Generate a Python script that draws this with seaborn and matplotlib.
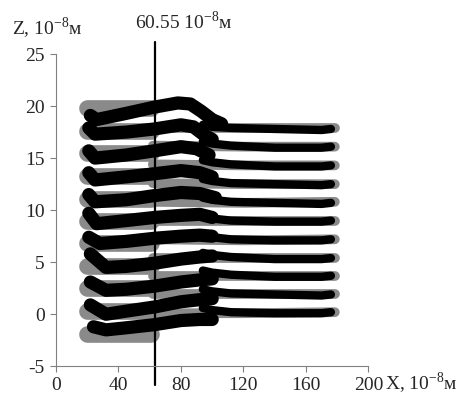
import matplotlib
matplotlib.use("Agg")
import matplotlib.pyplot as plt
import seaborn as sns

sns.set_style("ticks")
plt.rcParams['font.family'] = ['Liberation Serif', 'DejaVu Serif']
plt.rcParams['mathtext.fontset'] = 'custom'
plt.rcParams['mathtext.rm'] = 'Liberation Serif'

# ---- data ----
line_x = 63.5
line_label = "60.55 10$^{\\mathregular{-8}}$м"
x_ticks = [0, 40, 80, 120, 160, 200]
y_ticks = [-5, 0, 5, 10, 15, 20, 25]

# gray (initial) layers: left flat level and right level
gray_left_x = [20, 61]
gray_left_y = [19.8, 17.6, 15.5, 13.3, 11.1, 9.0, 6.8, 4.6, 2.5, 0.3, -1.9]
gray_right_x = [62, 120, 178.5]
gray_right_y = [[17.9, 17.9, 17.9], [16.2, 16.1, 16.1], [14.4, 14.3, 14.3],
                [12.6, 12.5, 12.5], [10.8, 10.7, 10.8], [9.0, 9.0, 9.0],
                [7.2, 7.1, 7.2], [5.4, 5.4, 5.4], [3.7, 3.7, 3.7],
                [1.9, 1.9, 1.9], [0.1, 0.1, 0.2]]

# black (final) left layers
black_left = [
    ([22, 26, 45, 63, 78, 86, 93, 100, 106], [19.1, 18.7, 19.3, 19.9, 20.3, 20.2, 19.5, 18.7, 18.3]),
    ([21, 25, 45, 63, 80, 88, 95, 100], [17.9, 17.3, 17.5, 17.8, 18.2, 18.0, 17.2, 16.8]),
    ([21, 25, 45, 63, 80, 90, 98], [15.7, 15.0, 15.3, 15.7, 16.1, 15.9, 15.3]),
    ([21, 25, 45, 63, 80, 92, 100], [13.6, 12.9, 13.2, 13.5, 13.8, 13.6, 13.2]),
    ([21, 25, 45, 63, 80, 92, 102], [11.5, 10.8, 11.0, 11.4, 11.7, 11.6, 11.2]),
    ([21, 26, 45, 63, 80, 92, 100], [9.7, 8.7, 9.0, 9.3, 9.5, 9.6, 9.3]),
    ([21, 28, 45, 63, 80, 92, 100], [7.4, 6.8, 7.0, 7.3, 7.5, 7.6, 7.5]),
    ([22, 32, 45, 63, 80, 92, 100], [5.8, 4.5, 4.6, 4.9, 5.3, 5.5, 5.6]),
    ([22, 32, 45, 63, 80, 92, 100], [3.1, 2.3, 2.4, 2.7, 3.1, 3.3, 3.4]),
    ([22, 32, 45, 63, 80, 92, 100], [0.9, 0.0, 0.3, 0.7, 1.2, 1.4, 1.5]),
    ([24, 32, 45, 63, 80, 92, 100], [-1.2, -1.5, -1.3, -1.0, -0.6, -0.5, -0.5]),
]

# black (final) right layers
black_right_x = [94, 100, 112, 140, 170, 176]
black_right_y = [[18.2, 18.0, 17.9, 17.8, 17.7, 17.8],
                 [16.6, 16.4, 16.2, 16.0, 16.0, 16.1],
                 [14.8, 14.6, 14.4, 14.2, 14.2, 14.3],
                 [13.0, 12.8, 12.6, 12.5, 12.4, 12.5],
                 [11.2, 11.0, 10.8, 10.7, 10.6, 10.7],
                 [9.4, 9.2, 9.0, 8.9, 8.9, 9.0],
                 [7.6, 7.4, 7.2, 7.1, 7.1, 7.2],
                 [5.9, 5.7, 5.5, 5.3, 5.3, 5.4],
                 [4.2, 4.0, 3.8, 3.6, 3.6, 3.7],
                 [2.4, 2.2, 2.0, 1.9, 1.8, 1.9],
                 [0.6, 0.4, 0.2, 0.1, 0.1, 0.2]]

# ---- figure ----
fig = plt.figure(figsize=(4.67, 4.01), dpi=100)
ax = fig.add_axes([0.1199, 0.0865, 0.669, 0.7788])

gray = '#8a8a8a'
for gy in gray_left_y:
    sns.lineplot(x=gray_left_x, y=[gy, gy], sort=False, estimator=None, color=gray,
                 linewidth=12, solid_capstyle='round', ax=ax)
for gy in gray_right_y:
    sns.lineplot(x=gray_right_x, y=gy, sort=False, estimator=None, color=gray,
                 linewidth=7, solid_capstyle='round', ax=ax)
for bx, by in black_left:
    sns.lineplot(x=bx, y=by, sort=False, estimator=None, color='black',
                 linewidth=9.5, solid_capstyle='round', solid_joinstyle='round', ax=ax)
for by in black_right_y:
    sns.lineplot(x=black_right_x, y=by, sort=False, estimator=None, color='black',
                 linewidth=6, solid_capstyle='round', solid_joinstyle='round', ax=ax)

ax.axvline(line_x, ymin=-0.06, ymax=1.04, color='black', linewidth=1.6, clip_on=False)

ax.set_xlim(0, 200)
ax.set_ylim(-5, 25)
ax.set_xticks(x_ticks)
ax.set_yticks(y_ticks)
ax.set_xticklabels([str(t) for t in x_ticks])
ax.set_yticklabels([str(t) for t in y_ticks])
ax.tick_params(labelsize=14, length=4, width=0.8, color='#808080', pad=4)
for s in ['top', 'right']:
    ax.spines[s].set_visible(False)
for s in ['left', 'bottom']:
    ax.spines[s].set_color('#808080')
    ax.spines[s].set_linewidth(0.8)
ax.set_xlabel('')
ax.set_ylabel('')

fig.text(12 / 467, (401 - 35) / 401, "Z, 10$^{\\mathregular{-8}}$м", fontsize=14,
         ha='left', va='baseline')
fig.text(135 / 467, (401 - 29) / 401, line_label, fontsize=14, ha='left', va='baseline')
fig.text(385 / 467, (401 - 390) / 401, "X, 10$^{\\mathregular{-8}}$м", fontsize=14,
         ha='left', va='baseline')

fig.savefig('out.png', dpi=100)
